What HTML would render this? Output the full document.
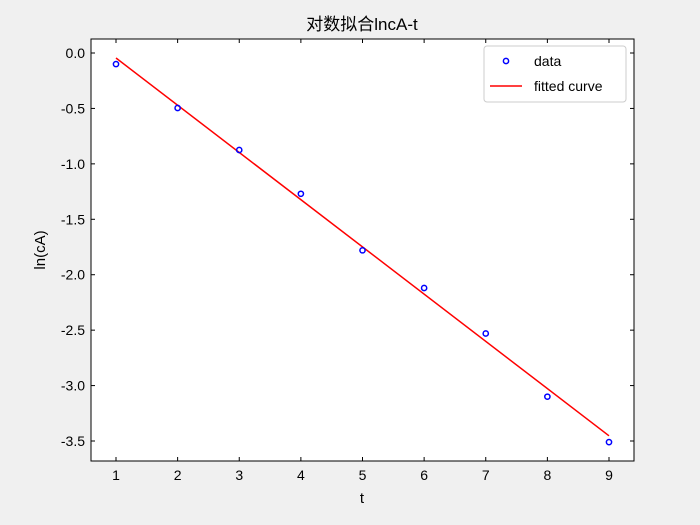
<!DOCTYPE html>
<html><head><meta charset="utf-8"><style>
body{margin:0;background:#f0f0f0;}
svg{display:block;font-family:"Liberation Sans","Noto Sans CJK SC",sans-serif;}
</style></head><body>
<svg id="c" width="700" height="525"></svg>
<script>
const xs=[1,2,3,4,5,6,7,8,9];
const ys=[-0.10,-0.496,-0.875,-1.27,-1.78,-2.12,-2.53,-3.10,-3.51];
const fitSlope=-0.426;
const fitIntercept=0.381;
const xTicks=[1,2,3,4,5,6,7,8,9];
const yTicks=[0,-0.5,-1,-1.5,-2,-2.5,-3,-3.5];
const yTickLabels=["0.0","-0.5","-1.0","-1.5","-2.0","-2.5","-3.0","-3.5"];

const L=91,R=634,T=39,B=461;
const X=v=>116+(v-1)*61.625;
const Y=v=>53-v*110.86;
const svg=document.getElementById('c');
const NS='http://www.w3.org/2000/svg';
function mk(tag,attrs,parent){const e=document.createElementNS(NS,tag);for(const k in attrs)e.setAttribute(k,attrs[k]);(parent||svg).appendChild(e);return e;}

const bg=mk('rect',{x:0,y:0,width:700,height:525,fill:'#f0f0f0'});


const pa=mk('rect',{x:L,y:T,width:R-L,height:B-T,fill:'#fff',stroke:'#000','stroke-width':1});



xTicks.forEach(t=>{
 const x=X(t);
 mk('line',{x1:x,y1:B,x2:x,y2:B-4,stroke:'#000'});
 mk('line',{x1:x,y1:T,x2:x,y2:T+4,stroke:'#000'});
 const tx=mk('text',{x:x,y:B+19,'text-anchor':'middle','font-size':14});
 tx.textContent=t;
 
 
});
yTicks.forEach((t,i)=>{
 const y=Y(t);
 mk('line',{x1:L,y1:y,x2:L+4,y2:y,stroke:'#000'});
 mk('line',{x1:R,y1:y,x2:R-4,y2:y,stroke:'#000'});
 const tx=mk('text',{x:L-6,y:y+5,'text-anchor':'end','font-size':14});
 tx.textContent=yTickLabels[i];
 
 
});

const fx0=xs[0],fx1=xs[xs.length-1];
const fit=mk('line',{x1:X(fx0),y1:Y(fitSlope*fx0+fitIntercept),x2:X(fx1),y2:Y(fitSlope*fx1+fitIntercept),stroke:'red','stroke-width':1.5});



xs.forEach((x,i)=>{
 const c=mk('circle',{cx:X(x),cy:Y(ys[i]),r:2.6,fill:'none',stroke:'blue','stroke-width':1.5});
 
 
});

const title=mk('text',{x:362,y:30,'text-anchor':'middle','font-size':17});
title.textContent='对数拟合lncA-t';


const xl=mk('text',{x:362,y:503,'text-anchor':'middle','font-size':15});
xl.textContent='t';


const yl=mk('text',{x:45,y:250,'text-anchor':'middle','font-size':15,transform:'rotate(-90 45 250)'});
yl.textContent='ln(cA)';



const lg=mk('g',{});


mk('rect',{x:484,y:46,width:142,height:56,rx:3,fill:'#fff',stroke:'#ccc'},lg);
const lc=mk('circle',{cx:506,cy:61,r:2.6,fill:'none',stroke:'blue','stroke-width':1.5},lg);


const lt1=mk('text',{x:534,y:66,'font-size':14},lg);
lt1.textContent='data';


mk('line',{x1:490,y1:86,x2:522,y2:86,stroke:'red','stroke-width':1.5},lg);
const lt2=mk('text',{x:534,y:91,'font-size':14},lg);
lt2.textContent='fitted curve';


</script>
</body></html>
